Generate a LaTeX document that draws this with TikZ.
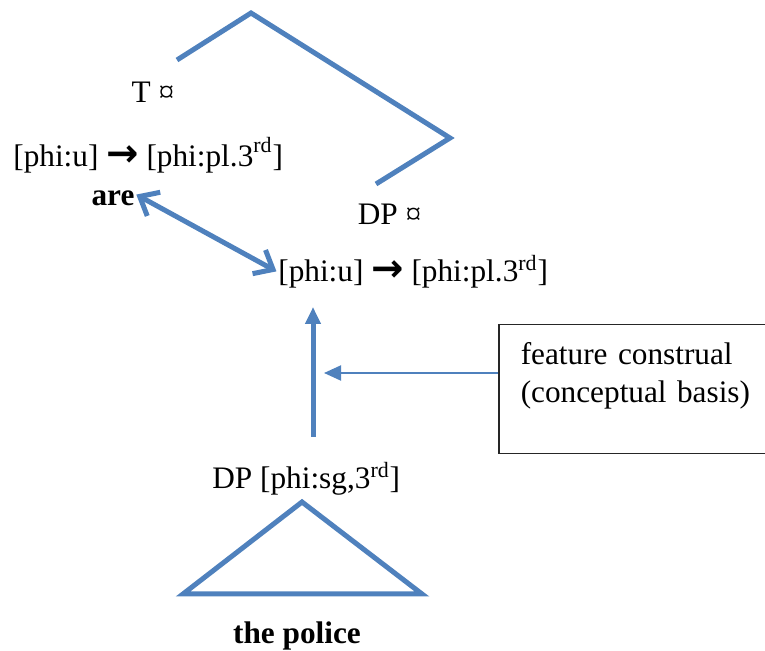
\documentclass[tikz,border=0pt]{standalone}
\usepackage{fontspec}
\setmainfont{Liberation Serif}
\newfontfamily\arrowfont{DejaVu Sans}
\usepackage{tikz}
\usetikzlibrary{arrows.meta}
\definecolor{treeblue}{HTML}{4F81BD}
\newcommand{\becomes}{{\arrowfont\bfseries\fontsize{22}{22}\selectfont →}}
\newcommand{\rd}{\textsuperscript{rd}}
\newcommand{\rdhi}{\textsuperscript{\raisebox{0.35ex}{rd}}}

\begin{document}
\begin{tikzpicture}[
  font=\fontsize{17.8}{21.5}\selectfont,
  txt/.style={inner sep=0pt, anchor=base},
  txtw/.style={inner sep=0pt, anchor=base west},
  branch/.style={treeblue, line width=0.1cm},
  agree/.style={{Straight Barb[length=3.2mm,width=5.4mm]}-{Straight Barb[length=3.2mm,width=5.4mm]},
                treeblue, line width=0.1cm, shorten >=1pt, shorten <=1pt},
  raise/.style={-{Triangle[length=3.4mm,width=3mm]}, treeblue, line width=0.1cm},
  feed/.style={-{Triangle[length=3.4mm,width=3mm]}, treeblue, line width=0.04cm},
  basisbox/.style={draw=black!85, line width=0.03cm, align=left, text width=6cm,
                   inner xsep=0.44cm, inner ysep=0.36cm, anchor=north west}]
\useasboundingbox (0,0) rectangle (15.3,13.02);
\draw[branch] (3.54,11.82) -- (5.02,12.76) -- (9.0,10.26) -- (7.52,9.34);
\node[txt]  (t)     at (3.06,10.96) {T ¤};
\node[txtw] (phiT)  at (0.26,9.68)  {[phi:u] \becomes{} [phi:pl.3\rdhi]};
\node[txt]  (are)   at (2.26,8.90)  {\bfseries are};
\node[txt]  (dp)    at (7.79,8.52)  {DP ¤};
\node[txtw] (phiDP) at (5.56,7.38)  {[phi:u] \becomes{} [phi:pl.3\rd]};
\node[txtw] (dpsg)  at (4.24,3.24)  {DP [phi:sg,3\rd]};
\node[txt]  (police) at (5.94,0.14) {\bfseries the police};
\node[basisbox] (basis) at (9.96,6.54) {feature construal\\(conceptual basis)\\[-0.1cm]\mbox{}};
\coordinate (stemlo) at (6.26,4.28);
\coordinate (stemhi) at (6.26,6.88);
\coordinate (hook)   at (6.48,5.56);
\draw[agree] ([yshift=0.1cm]are.east) -- (phiDP.west);
\draw[raise] (stemlo) -- (stemhi);
\draw[feed] (basis.west |- hook) -- (hook);
\draw[branch] (6.04,2.98) -- (8.44,1.14) -- (3.66,1.14) -- cycle;
\end{tikzpicture}
\end{document}
